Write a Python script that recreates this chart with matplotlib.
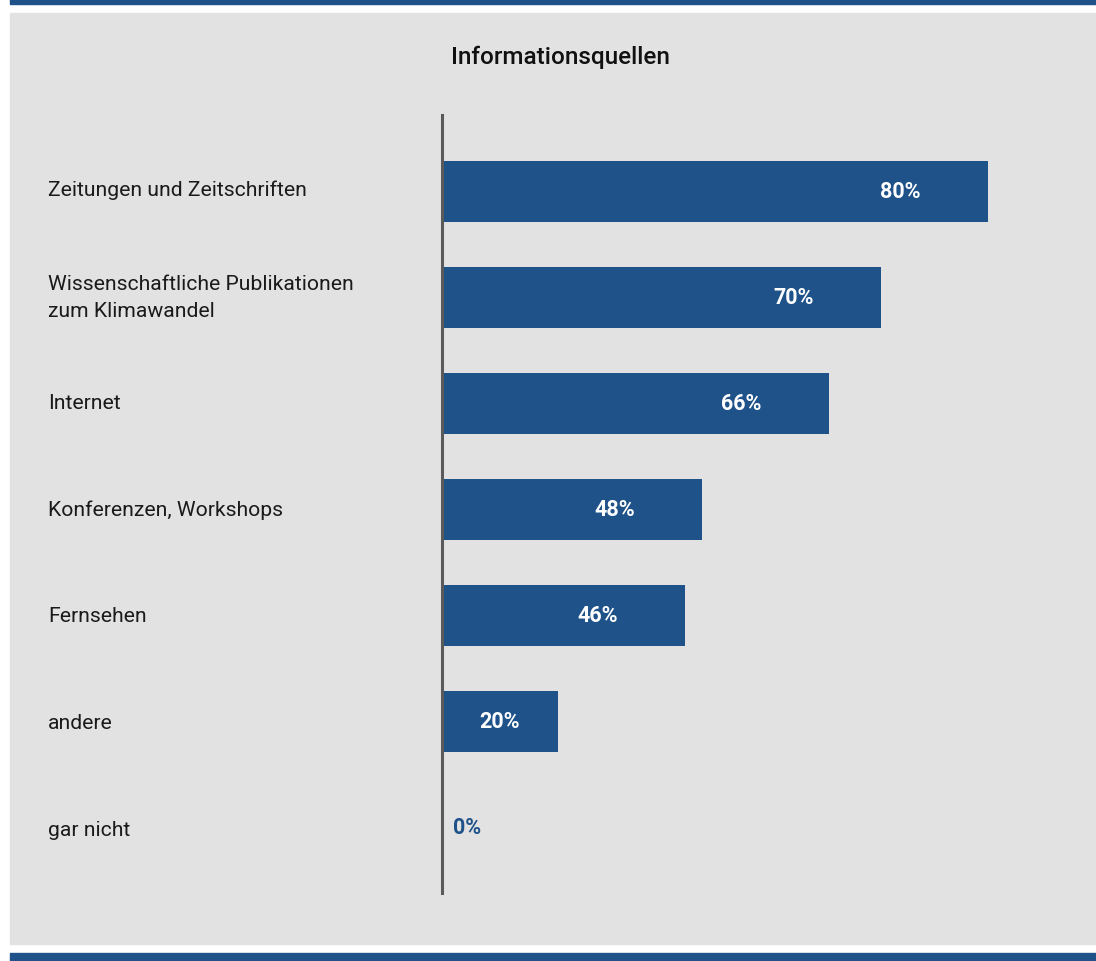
import numpy as np
import matplotlib
matplotlib.use('Agg')
import matplotlib.pyplot as plt
from matplotlib.patches import Rectangle

plt.rcParams['font.family'] = ['Roboto', 'DejaVu Sans']

title = 'Informationsquellen'
categories = ['Zeitungen und Zeitschriften',
              'Wissenschaftliche Publikationen\nzum Klimawandel',
              'Internet',
              'Konferenzen, Workshops',
              'Fernsehen',
              'andere',
              'gar nicht']
# printed shares
shares = [80, 70, 66, 48, 46, 20, 0]
# bar lengths as drawn in the picture (same scale as the 80% bar)
bar_len = [80, 64.4, 56.7, 38.1, 35.6, 17.1, 0]

blue = '#1e5289'
W, H = 1096, 962
fig = plt.figure(figsize=(W / 100, H / 100), dpi=100)
fig.patch.set_facecolor('white')

# background panel and blue strips
fig.patches.append(Rectangle((10 / W, 1 - 945 / H), 1 - 10 / W, (945 - 14) / H,
                             transform=fig.transFigure, color='#e2e2e2', zorder=0))
fig.patches.append(Rectangle((10 / W, 1 - 5 / H), 1 - 10 / W, 5 / H,
                             transform=fig.transFigure, color=blue, zorder=0))
fig.patches.append(Rectangle((10 / W, 0), 1 - 10 / W, (962 - 954) / H,
                             transform=fig.transFigure, color=blue, zorder=0))

scale = 6.83  # px per unit
x0 = 441.5
xmax = 90
ax = fig.add_axes([x0 / W, 1 - 894 / H, xmax * scale / W, (894 - 116) / H])
ax.set_zorder(2)
ax.patch.set_visible(False)

y = np.arange(len(categories))
ax.barh(y, bar_len, height=61 / 106, color=blue, zorder=2)
ax.set_xlim(0, xmax)
ax.set_ylim(6 + 65.5 / 106, -76.5 / 106)

for s in ['top', 'right', 'bottom']:
    ax.spines[s].set_visible(False)
ax.spines['left'].set_linewidth(2.2)
ax.spines['left'].set_color('#5a5a5a')
ax.spines['left'].set_zorder(3)
ax.set_xticks([])
ax.set_yticks([])

for i, (v, s) in enumerate(zip(bar_len, shares)):
    if v > 0:
        xt = max(v / 2, v - 12.8)
        ax.text(xt, i, '%d%%' % s, ha='center', va='center', color='white',
                fontsize=15.5, fontweight='bold', zorder=4)
    else:
        ax.text(3.7, i, '%d%%' % s, ha='center', va='center', color=blue,
                fontsize=15.5, fontweight='bold', zorder=4)

# category labels, baseline of the last line
for i, c in enumerate(categories):
    n = c.count('\n')
    yp = 1 - (196 + 106.6 * i + 14 * n) / H
    fig.text(48 / W, yp, c, ha='left', va='baseline', fontsize=15.2,
             color='#1a1a1a', linespacing=1.54, zorder=3)

fig.text(560 / W, 1 - 57 / H, title, ha='center', va='center', fontsize=17.5,
         fontweight='medium', color='#111111', zorder=3)

fig.savefig('out.png', dpi=100)
